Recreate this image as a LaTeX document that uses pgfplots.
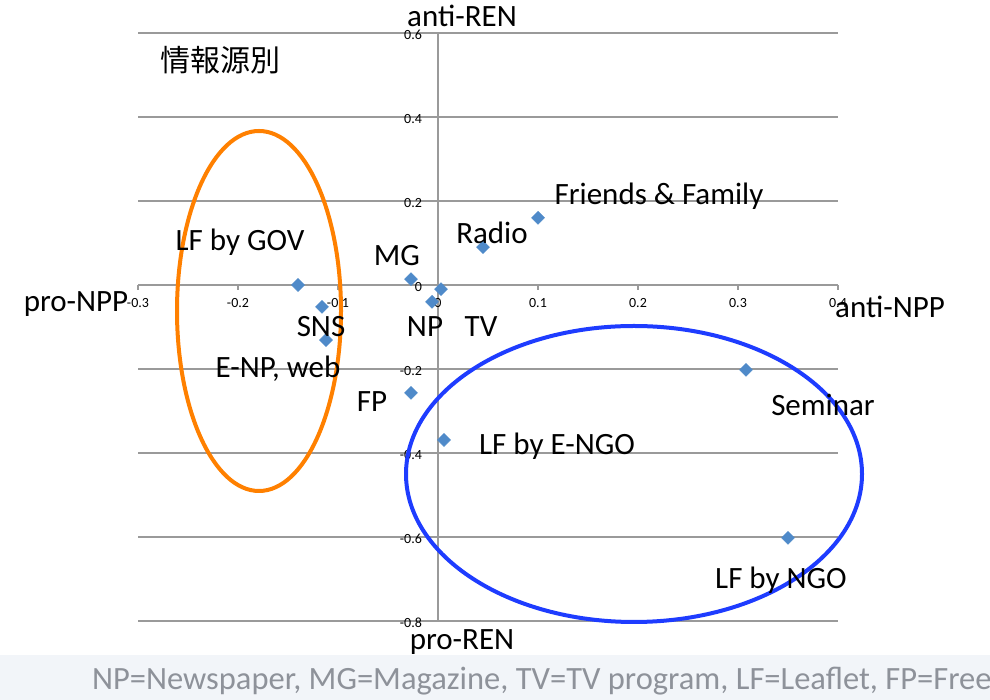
\documentclass[border=0pt]{standalone}
\usepackage{fontspec}
\setmainfont{Carlito}
\newfontfamily\cjk{Noto Sans CJK JP}
\usepackage{pgfplots}
\pgfplotsset{compat=1.18}
\definecolor{gridgray}{HTML}{9A9A9A}
\definecolor{mk}{HTML}{4F8AC9}
\definecolor{orng}{HTML}{FF8000}
\definecolor{blu}{HTML}{1E3CFF}
\definecolor{band}{HTML}{F2F5F9}
\definecolor{foot}{HTML}{8E929A}
\newcommand{\lbl}{\fontsize{31}{36}\selectfont}
\newcommand{\tks}{\fontsize{14}{16}\selectfont}
\begin{document}
\begin{tikzpicture}[x=1pt,y=1pt]
\useasboundingbox (0,0) rectangle (990,700);
\fill[band] (0,0) rectangle (990,45);
\begin{axis}[
  at={(138pt,79pt)}, anchor=south west,
  scale only axis, width=700pt, height=588pt,
  xmin=-0.3, xmax=0.4, ymin=-0.8, ymax=0.6,
  axis lines=middle,
  hide obscured x ticks=false, hide obscured y ticks=false,
  axis line style={draw=gridgray, line width=1.5pt, -},
  ymajorgrids, grid style={draw=gridgray, line width=1.5pt},
  xtick={-0.3,-0.2,-0.1,0,0.1,0.2,0.3,0.4},
  ytick={-0.8,-0.6,-0.4,-0.2,0,0.2,0.4,0.6},
  xtick style={draw=gridgray, line width=1.5pt},
  ytick style={draw=none},
  major tick length=5pt, xtick align=outside,
  /pgf/number format/assume math mode=true,
  /pgf/number format/.cd, fixed, precision=1, /pgfplots/.cd,
  xticklabel style={font=\tks, yshift=-5pt},
  yticklabel style={font=\tks, anchor=east, xshift=-10pt, yshift=-2pt},
  clip=false,
]
\addplot[only marks, mark=square*, mark size=4.6pt, mark options={rotate=45, fill=mk, draw=mk}]
  coordinates {
  (-0.140, 0.000)
  (-0.116,-0.052)
  (-0.112,-0.131)
  (-0.027, 0.014)
  (-0.006,-0.040)
  ( 0.003,-0.010)
  ( 0.045, 0.090)
  ( 0.100, 0.160)
  (-0.027,-0.257)
  ( 0.006,-0.369)
  ( 0.308,-0.202)
  ( 0.350,-0.602)
  };
\end{axis}
\draw[orng, line width=4pt] (259,389) ellipse [x radius=82, y radius=180];
\draw[blu, line width=4pt] (634,226) ellipse [x radius=228, y radius=148];
\begin{scope}[every node/.style={font=\lbl, inner sep=0pt, anchor=base}]
\node at (462,673) {anti-REN};
\node at (76,388) {pro-NPP};
\node at (890,382) {anti-NPP};
\node at (462,50) {pro-REN};
\node at (659,495) {Friends \& Family};
\node at (492,456) {Radio};
\node at (240,449) {LF by GOV};
\node at (397,434) {MG};
\node at (321,363) {SNS};
\node at (425,363) {NP};
\node at (481,363) {TV};
\node at (278,322) {E-NP, web};
\node at (372,288) {FP};
\node at (557,245) {LF by E-NGO};
\node at (823,284) {Seminar};
\node at (781,111) {LF by NGO};
\end{scope}
\node[font={\cjk\fontsize{30}{34}\selectfont}, inner sep=0pt] at (220,640) {情報源別};
\begin{scope}
\clip (0,0) rectangle (990,45);
\node[font=\fontsize{32.5}{36}\selectfont, text=foot, inner sep=0pt, anchor=base west] at (92,10) {NP=Newspaper, MG=Magazine, TV=TV program, LF=Leaflet, FP=Free paper};
\end{scope}
\end{tikzpicture}
\end{document}
